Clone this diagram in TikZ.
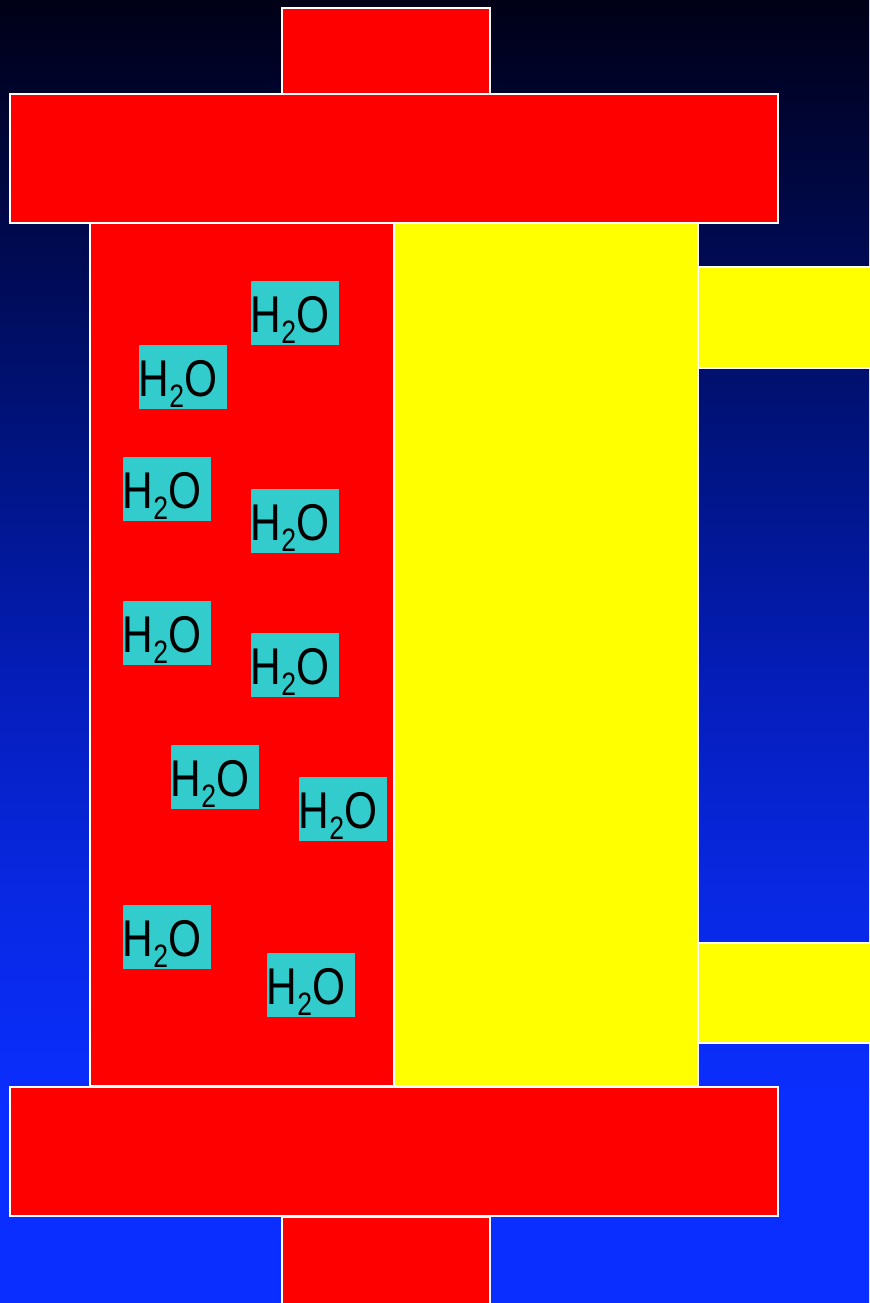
\documentclass[tikz,border=0pt]{standalone}
\usepackage{fontspec}
\newfontfamily\waterfont[FakeStretch=0.82]{Liberation Sans}
\usetikzlibrary{positioning}
\definecolor{cellred}{RGB}{255,0,0}
\definecolor{cellyellow}{RGB}{255,255,0}
\definecolor{watercyan}{RGB}{51,204,204}
\definecolor{bgblue}{RGB}{10,46,255}
\definecolor{bgmida}{RGB}{8,40,225}
\definecolor{bgmidb}{RGB}{5,30,190}
\definecolor{bgmidc}{RGB}{0,20,130}
\definecolor{bgmidd}{RGB}{0,10,80}
\definecolor{bgtop}{RGB}{0,0,22}
% path box is mapped onto 25bp..75bp of the shading
\pgfdeclareverticalshading{bgshade}{100bp}{color(0bp)=(bgblue); color(32.5bp)=(bgblue);
  color(41bp)=(bgmida); color(48bp)=(bgmidb); color(57.5bp)=(bgmidc);
  color(65.5bp)=(bgmidd); color(75bp)=(bgtop); color(100bp)=(bgtop)}
\newcommand{\water}{H\raisebox{-0.11cm}{\fontsize{9.2}{10}\selectfont 2}O}

\begin{document}
\begin{tikzpicture}[
    x=0.01cm, y=-0.01cm,
    part/.style={draw=white, line width=0.02cm},
    redpart/.style={part, fill=cellred},
    yellowpart/.style={part, fill=cellyellow},
    molecule/.style={rectangle, fill=watercyan, anchor=north west, inner sep=0pt,
                  text width=0.88cm, align=left, text height=0.52cm, text depth=0.12cm,
                  font=\waterfont\fontsize{14.7}{16}\selectfont}
]
\useasboundingbox (0,0) rectangle (869,1303);

% background
\fill[shading=bgshade] (0,0) rectangle (869,1303);

% chambers
\draw[redpart] (90,223) rectangle (394,1086);
\draw[yellowpart] (394,223) rectangle (698,1086);

% side ports
\draw[yellowpart] (698,267) rectangle (880,368);
\draw[yellowpart] (698,943) rectangle (880,1043);

% end plates and caps
\draw[redpart] (282,8) rectangle (490,94);
\draw[redpart] (10,94) rectangle (778,223);
\draw[redpart] (10,1087) rectangle (778,1216);
\draw[redpart] (282,1217) rectangle (490,1320);

% water molecules
\foreach \n/\px/\py in {1/250/280, 2/138/344, 3/122/456, 4/250/488, 5/122/600,
                        6/250/632, 7/170/744, 8/298/776, 9/122/904, 10/266/952}
  \node[molecule] (w\n) at (\px,\py) {\water};
\end{tikzpicture}
\end{document}
